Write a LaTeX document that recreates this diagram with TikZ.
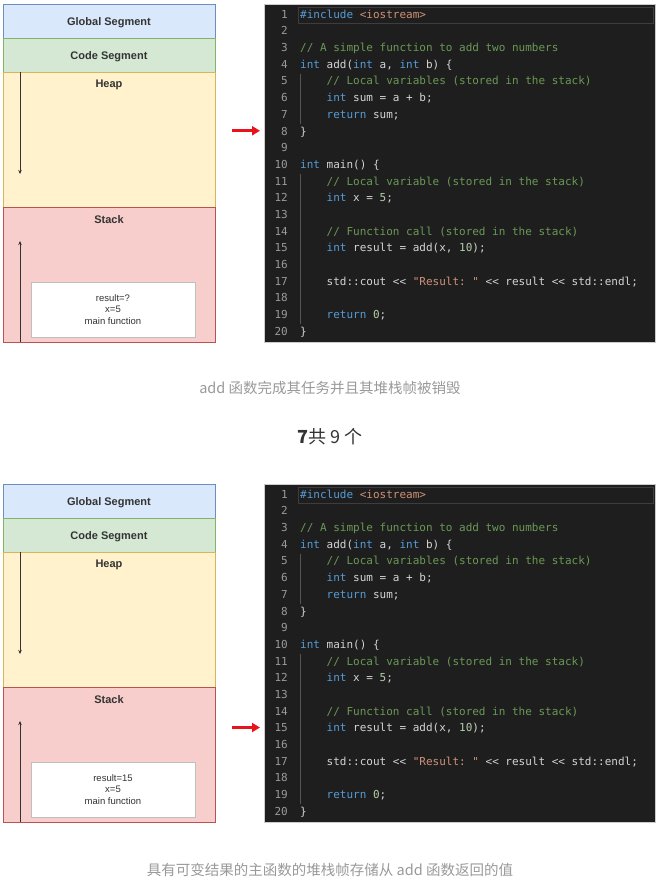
\documentclass[tikz,border=0pt]{standalone}
\usepackage{fontspec}
\setmainfont{Liberation Sans}
\setmonofont{DejaVu Sans Mono}
\newfontfamily\cjk{Noto Sans CJK SC}
\usetikzlibrary{positioning,arrows.meta}
\definecolor{globfill}{HTML}{DAE8FC}
\definecolor{globline}{HTML}{6C8EBF}
\definecolor{codefill}{HTML}{D5E8D4}
\definecolor{codeline}{HTML}{82B366}
\definecolor{heapfill}{HTML}{FFF2CC}
\definecolor{heapline}{HTML}{D6B656}
\definecolor{stackfill}{HTML}{F8CECC}
\definecolor{stackline}{HTML}{B85450}
\definecolor{ink}{HTML}{333333}
\definecolor{edbg}{HTML}{1E1E1E}
\definecolor{edtxt}{HTML}{D4D4D4}
\definecolor{ednum}{HTML}{9A9A9A}
\definecolor{vsblue}{HTML}{569CD6}
\definecolor{vsgreen}{HTML}{6A9955}
\definecolor{vsorange}{HTML}{CE9178}
\definecolor{vsnum}{HTML}{B5CEA8}
\definecolor{capgray}{HTML}{999999}
\definecolor{arrred}{HTML}{E8141B}
\newcommand{\ckw}[1]{\textcolor{vsblue}{#1}}
\newcommand{\ccm}[1]{\textcolor{vsgreen}{#1}}
\newcommand{\cst}[1]{\textcolor{vsorange}{#1}}
\newcommand{\cnm}[1]{\textcolor{vsnum}{#1}}
\newcommand{\ind}{\phantom{xxxx}}
% one source line: number + text, \i is the panel index
\newcommand{\cl}[2]{%
  \node[lnum] (n\i-#1) at (288,{15.5+(#1-1)*16.68}) {#1};
  \node[codetxt] (c\i-#1) at (300,{15.5+(#1-1)*16.68}) {#2};}
\tikzset{
  seg/.style={draw,line width=0.7pt,minimum width=212pt,outer sep=0pt,inner sep=0pt,
    text height=8pt,text depth=0pt,font=\fontsize{11}{13}\selectfont\bfseries,text=ink},
  segg/.style={seg,fill=globfill,draw=globline,minimum height=34pt},
  segc/.style={seg,fill=codefill,draw=codeline,minimum height=34pt},
  segh/.style={seg,fill=heapfill,draw=heapline,minimum height=135pt},
  segs/.style={seg,fill=stackfill,draw=stackline,minimum height=135pt},
  segtxt/.style={inner sep=0pt,font=\fontsize{11}{13}\selectfont\bfseries,text=ink},
  framebox/.style={draw=black!25,fill=white,minimum width=164pt,minimum height=55pt,align=center,
    font=\fontsize{9.5}{11.5}\selectfont,text=ink},
  growarr/.style={draw=ink,line width=0.9pt,-{Stealth[length=4pt,width=3.5pt]}},
  panel/.style={draw=black!20,fill=edbg,line width=0.8pt,minimum width=391pt,minimum height=338pt},
  curline/.style={draw=white!14!edbg,line width=0.8pt,minimum width=355pt,minimum height=16pt},
  codetxt/.style={anchor=west,inner sep=0pt,text height=8pt,text depth=2.5pt,
    font=\fontsize{11}{13}\ttfamily,text=edtxt},
  lnum/.style={codetxt,anchor=east,text=ednum},
  indguide/.style={draw=white!25!edbg,line width=0.6pt},
  redarr/.style={draw=arrred,line width=2.8pt,-{Triangle[length=8pt,width=9pt]}},
  capt/.style={font=\cjk\fontsize{14.5}{16}\selectfont,text=capgray},
}
\begin{document}
\begin{tikzpicture}[x=1pt,y=-1pt]
  \useasboundingbox (0,0) rectangle (659,879);
  \foreach \i/\yo/\res/\ln in {1/0/?/8,2/480/15/15}{
  \begin{scope}[yshift=-\yo pt]
    % memory layout
    \node[segg] (glob\i) at (109,21) {Global Segment};
    \node[segc,below=0pt of glob\i] (text\i) {Code Segment};
    \node[segh,below=0pt of text\i] (heap\i) {};
    \node[segs,below=0pt of heap\i] (stack\i) {};
    \node[segtxt,below=7.5pt of heap\i.north] (heapt\i) {Heap};
    \node[segtxt,below=8pt of stack\i.north] (stackt\i) {Stack};
    \node[framebox] (frame\i) at (113,309.5) {result=\res\\x=5\\main function};
    \coordinate (hs\i) at (20,72);
    \coordinate (he\i) at (20,174);
    \coordinate (ss\i) at (20,342);
    \coordinate (se\i) at (20,241);
    \draw[growarr] (hs\i) -- (he\i);
    \draw[growarr] (ss\i) -- (se\i);
    % editor
    \node[panel] (panel\i) at (459.5,173) {};
    \node[curline] (cur\i) at (475.5,15) {};
    \cl{1}{\ckw{\#include} \cst{<iostream>}}
    \cl{2}{}
    \cl{3}{\ccm{// A simple function to add two numbers}}
    \cl{4}{\ckw{int} add(\ckw{int} a, \ckw{int} b) \{}
    \cl{5}{\ind\ccm{// Local variables (stored in the stack)}}
    \cl{6}{\ind\ckw{int} sum = a + b;}
    \cl{7}{\ind\ckw{return} sum;}
    \cl{8}{\}}
    \cl{9}{}
    \cl{10}{\ckw{int} main() \{}
    \cl{11}{\ind\ccm{// Local variable (stored in the stack)}}
    \cl{12}{\ind\ckw{int} x = \cnm{5};}
    \cl{13}{}
    \cl{14}{\ind\ccm{// Function call (stored in the stack)}}
    \cl{15}{\ind\ckw{int} result = add(x, \cnm{10});}
    \cl{16}{}
    \cl{17}{\ind std::cout << \cst{"Result: "} << result << std::endl;}
    \cl{18}{}
    \cl{19}{\ind\ckw{return} \cnm{0};}
    \cl{20}{\}}
    \draw[indguide] ([yshift=3pt]c\i-5.north west) -- ([yshift=-3pt]c\i-7.south west);
    \draw[indguide] ([yshift=3pt]c\i-11.north west) -- ([yshift=-3pt]c\i-19.south west);
    % current line marker
    \coordinate (ra\i) at (232,{14+(\ln-1)*16.68});
    \coordinate (rb\i) at (260,{14+(\ln-1)*16.68});
    \draw[redarr] (ra\i) -- (rb\i);
  \end{scope}
  }
  \node[capt] (cap1) at (330,388) {add 函数完成其任务并且其堆栈帧被销毁};
  \node[capt,text=ink,font=\cjk\fontsize{18}{20}\selectfont] (pager) at (330,437) {\textbf{7}共 9 个};
  \node[capt] (cap2) at (330,870) {具有可变结果的主函数的堆栈帧存储从 add 函数返回的值};
\end{tikzpicture}
\end{document}
